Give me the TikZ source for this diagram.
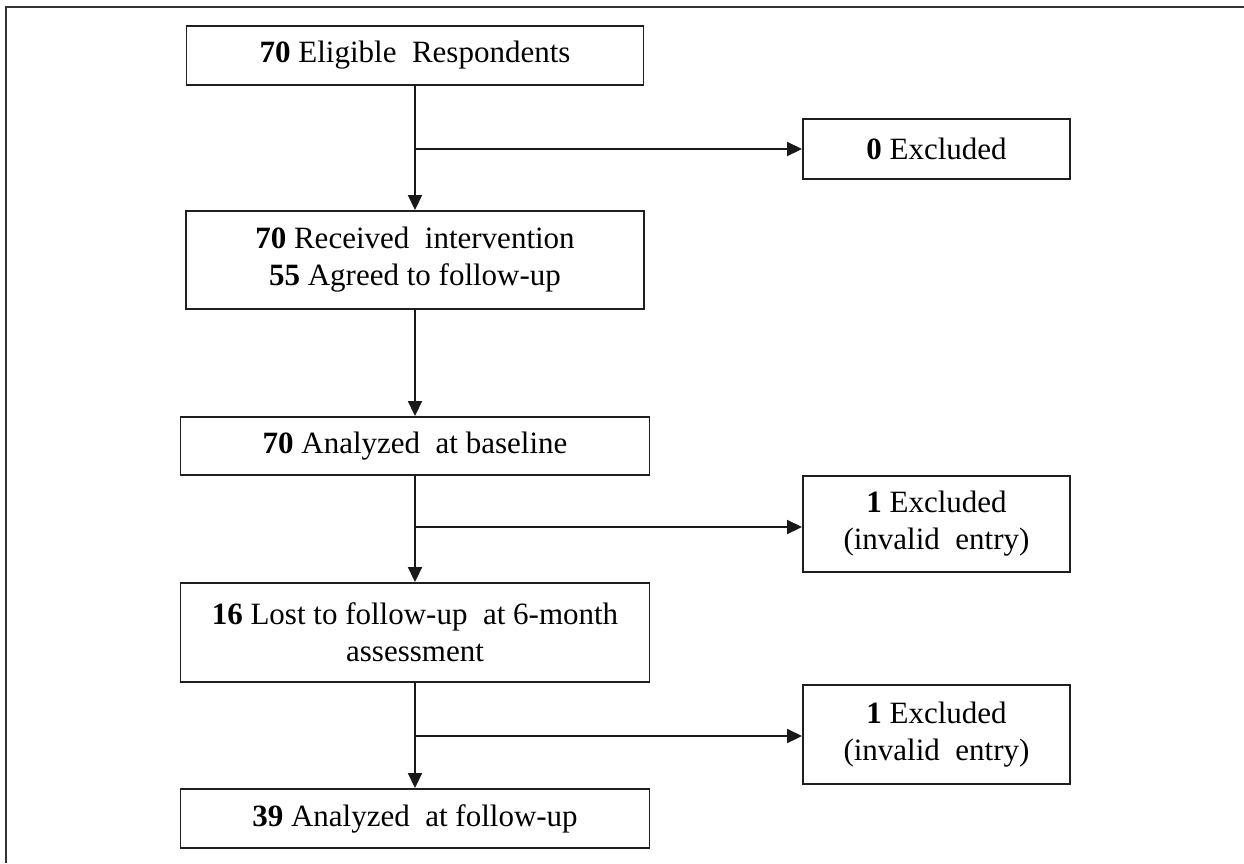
\documentclass[tikz,border=0pt]{standalone}
\usepackage{fontspec}
\setmainfont{Liberation Serif}
\usetikzlibrary{arrows.meta}
\begin{document}
\begin{tikzpicture}[x=1pt,y=-1pt,
  box/.style={draw=black!88, line width=1.9pt, inner sep=0pt, align=center,
    font=\fontsize{31}{37}\selectfont},
  conn/.style={draw=black!90, line width=1.8pt},
  arr/.style={conn, -{Triangle[length=15pt,width=14pt]}},
  framec/.style={draw=black!80, line width=2pt}]
\useasboundingbox (0,0) rectangle (1244,863);
\draw[framec] (1244,7) -- (6,7) -- (6,863);

\node[box, minimum width=457pt, minimum height=59pt] (b1) at (415,55.5)
  {\textbf{70} Eligible\ \ Respondents};
\node[box, minimum width=458pt, minimum height=98pt] (b2) at (415,260)
  {\textbf{70} Received\ \ intervention\\\textbf{55} Agreed to follow-up};
\node[box, minimum width=469pt, minimum height=58pt] (b3) at (415,446)
  {\textbf{70} Analyzed\ \ at baseline};
\node[box, minimum width=469pt, minimum height=99pt] (b4) at (415,632.5)
  {\textbf{16} Lost to follow-up\ \ at 6-month\\assessment};
\node[box, minimum width=469pt, minimum height=59pt] (b5) at (415,818.5)
  {\textbf{39} Analyzed\ \ at follow-up};

\node[box, minimum width=267pt, minimum height=60pt] (e0) at (936.5,149)
  {\textbf{0} Excluded};
\node[box, minimum width=267pt, minimum height=96pt] (e1) at (936.5,524)
  {\textbf{1} Excluded\\(invalid\ \ entry)};
\node[box, minimum width=267pt, minimum height=99pt] (e2) at (936.5,734.5)
  {\textbf{1} Excluded\\(invalid\ \ entry)};

\coordinate (j1) at (415,149);
\coordinate (j2) at (415,527);
\coordinate (j3) at (415,736);

\draw[arr] (b1) -- (b2);
\draw[arr] (b2) -- (b3);
\draw[arr] (b3) -- (b4);
\draw[arr] (b4) -- (b5);
\draw[arr] (j1) -- (j1 -| e0.west);
\draw[arr] (j2) -- (j2 -| e1.west);
\draw[arr] (j3) -- (j3 -| e2.west);
\end{tikzpicture}
\end{document}
